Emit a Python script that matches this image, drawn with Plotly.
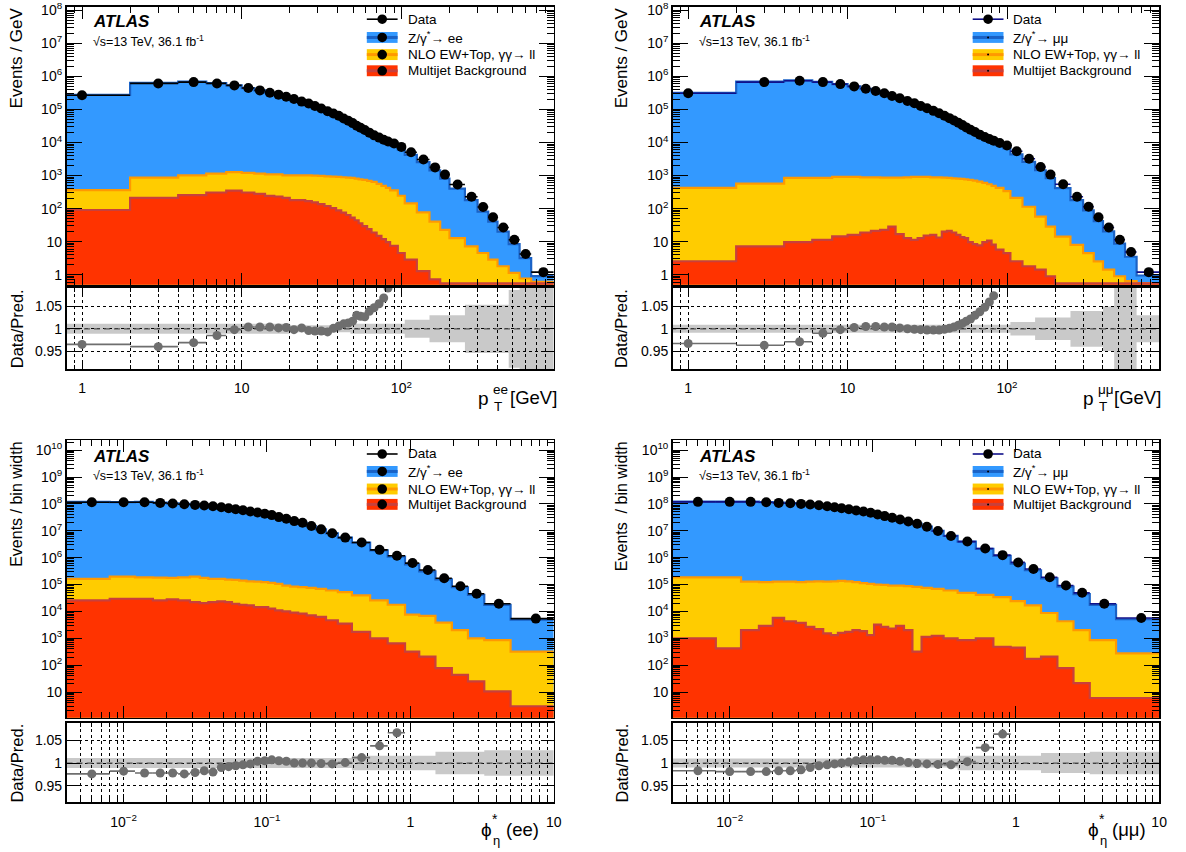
import plotly.graph_objects as go

W, H = 1186, 852
FONT = "Liberation Sans, Arial, Helvetica, sans-serif"

# ----------------------------------------------------------------- data
PT_EDGES = [0, 2, 4, 6, 8, 10, 12, 14, 16, 18, 20, 22.5, 25, 27.5, 30, 33, 36, 39, 42, 45,
            48, 51, 54, 57, 61, 65, 70, 75, 80, 85, 95, 105, 125, 150, 175, 200, 250, 300,
            350, 400, 470, 550, 650, 900]

EE_PT_DATA = [2.68e5, 6.14e5, 6.73e5, 6.14e5, 5.35e5, 4.45e5, 3.78e5, 3.22e5, 2.81e5, 2.44e5,
              2.08e5, 1.73e5, 1.51e5, 1.28e5, 1.07e5, 8.87e4, 7.55e4, 6.43e4, 5.35e4, 4.55e4,
              3.87e4, 3.22e4, 2.81e4, 2.39e4, 1.99e4, 1.65e4, 1.41e4, 1.22e4, 1.07e4, 9.29e3,
              7.38e3, 5.1e3, 3.08e3, 1.77e3, 1.07e3, 535, 228, 112, 54.7, 26.8, 11.4, 4.25, 1.2]
EE_PT_RATIO = [0.965, 0.960, 0.969, 0.985, 0.998, 1.004, 1.004, 1.004, 1.002, 1.003,
               0.998, 1.002, 0.996, 0.995, 0.995, 0.993, 1.001, 1.006, 1.011, 1.013,
               1.017, 1.030, 1.028, 1.027, 1.039, 1.047, 1.056, 1.069, 1.091, None,
               None, None, None, None, None, None, None, None, None, None, None, None, None]
EE_PT_Z = [2.78e5, 6.4e5, 6.95e5, 6.23e5, 5.36e5, 4.43e5, 3.76e5, 3.2e5, 2.8e5, 2.43e5,
           2.08e5, 1.73e5, 1.52e5, 1.29e5, 1.08e5, 8.93e4, 7.54e4, 6.39e4, 5.29e4, 4.49e4,
           3.8e4, 3.13e4, 2.73e4, 2.33e4, 1.92e4, 1.58e4, 1.34e4, 1.14e4, 9.8e3, 8.1e3,
           6.1e3, 4.25e3, 2.56e3, 1.44e3, 810, 405, 181, 81, 40.5, 20.3, 8.5, 3.2, 0.91]
EE_PT_EW = [363, 871, 1020, 1140, 1280, 1200, 1140, 1090, 1090, 1020,
            1020, 1020, 1020, 998, 975, 950, 930, 910, 890, 870,
            850, 810, 770, 740, 690, 645, 560, 490, 425, 355,
            245, 144, 77, 40.5, 22.8, 12.8, 7.2, 4.55, 2.87, 1.81, 1.14, 0.77, 0.61]
EE_PT_MJ = [91, 213, 256, 308, 353, 308, 281, 244, 233, 213,
            181, 181, 169, 154, 137, 120, 104, 89, 75.5, 64.3,
            53.5, 44.5, 36.1, 29.4, 23.9, 19, 15.1, 12, 9.7, 7.55,
            4.55, 2.87, 1.28, 0.72, 0.55, 0.55, 0.55, 0.55, 0.55, 0.55, 0.55, 0.55, 0.55]
EE_PT_BAND = [0.011, 0.011, 0.011, 0.011, 0.011, 0.011, 0.011, 0.011, 0.011, 0.011,
              0.008, 0.008, 0.008, 0.008, 0.008, 0.008, 0.008, 0.008, 0.008, 0.008,
              0.011, 0.011, 0.011, 0.011, 0.011, 0.011, 0.011, 0.011, 0.011, 0.011,
              0.011, 0.02, 0.02, 0.03, 0.03, 0.03, 0.054, 0.054, 0.054, 0.054, 0.087, 0.15, 0.15]

MM_PT_DATA = [3.08e5, 6.73e5, 7.38e5, 6.73e5, 5.86e5, 4.99e5, 4.25e5, 3.61e5, 3.08e5, 2.56e5,
              2.18e5, 1.81e5, 1.54e5, 1.28e5, 1.09e5, 9.08e4, 7.73e4, 6.43e4, 5.47e4, 4.66e4,
              3.96e4, 3.37e4, 2.87e4, 2.44e4, 2.08e4, 1.73e4, 1.47e4, 1.28e4, 1.14e4, 9.7e3,
              8.1e3, 5.47e3, 3.22e3, 1.81e3, 1.07e3, 547, 228, 114, 54.7, 26.8, 11.4, 4.88, 1.2]
MM_PT_RATIO = [0.967, 0.963, 0.971, 0.990, 0.998, 1.003, 1.005, 1.005, 1.004, 1.004,
               1.002, 1.000, 0.999, 0.998, 0.997, 0.997, 0.997, 0.999, 1.001, 1.004,
               1.008, 1.012, 1.017, 1.022, 1.030, 1.038, 1.048, 1.060, 1.074, None,
               None, None, None, None, None, None, None, None, None, None, None, None, None]
MM_PT_Z = [3.19e5, 6.99e5, 7.6e5, 6.8e5, 5.87e5, 4.97e5, 4.23e5, 3.59e5, 3.07e5, 2.55e5,
           2.18e5, 1.81e5, 1.54e5, 1.28e5, 1.09e5, 9.1e4, 7.75e4, 6.44e4, 5.46e4, 4.64e4,
           3.93e4, 3.33e4, 2.82e4, 2.39e4, 2.02e4, 1.67e4, 1.4e4, 1.21e4, 1.06e4, 8.4e3,
           6.7e3, 4.4e3, 2.6e3, 1.45e3, 840, 420, 180, 88, 42, 20.5, 8.7, 3.5, 0.95]
MM_PT_EW = [425, 573, 847, 847, 908, 908, 887, 887, 867, 867,
            867, 887, 908, 908, 908, 887, 887, 867, 847, 828,
            809, 790, 772, 738, 705, 658, 600, 547, 488, 425,
            338, 213, 114, 57, 28.6, 14.3, 8.04, 4.52, 2.54, 1.43, 0.9, 0.64, 0.56]
MM_PT_MJ = [2.56, 7.2, 9.7, 11.4, 14.4, 16.1, 19, 21.3, 22.8, 28.7,
            16.9, 12.8, 11.4, 12.8, 15.4, 16.1, 13.4, 20.3, 21.3, 19,
            16.1, 13.7, 12.8, 9.7, 8.47, 7.73, 9.7, 10.7, 8.1, 5.73,
            4.52, 2.56, 1.81, 1.43, 0.9, 0.55, 0.55, 0.55, 0.55, 0.55, 0.55, 0.55, 0.55]
MM_PT_BAND = [0.009, 0.009, 0.009, 0.009, 0.009, 0.009, 0.009, 0.009, 0.009, 0.009,
              0.009, 0.009, 0.009, 0.009, 0.009, 0.009, 0.009, 0.009, 0.009, 0.009,
              0.009, 0.009, 0.009, 0.009, 0.009, 0.009, 0.009, 0.009, 0.009, 0.009,
              0.009, 0.015, 0.015, 0.025, 0.025, 0.025, 0.04, 0.04, 0.04, 0.05, 0.1, 0.1, 0.03]

PHI_EDGES = [0.004, 0.008, 0.012, 0.016, 0.020, 0.024, 0.029, 0.034, 0.039, 0.045, 0.051,
             0.057, 0.064, 0.072, 0.081, 0.091, 0.102, 0.114, 0.128, 0.145, 0.165, 0.189,
             0.219, 0.258, 0.312, 0.391, 0.524, 0.695, 0.918, 1.153, 1.496, 1.947, 2.522,
             3.277, 5.0, 10.0]

EE_PHI_DATA = [1.15e8, 1.15e8, 1.15e8, 1.09e8, 1.03e8, 9.72e7, 9.18e7, 8.67e7, 8.2e7, 7.53e7,
               6.92e7, 6.35e7, 5.83e7, 5.21e7, 4.79e7, 4.28e7, 3.82e7, 3.22e7, 2.79e7, 2.29e7,
               1.99e7, 1.5e7, 1.13e7, 8.04e6, 5.56e6, 3.64e6, 1.95e6, 1.17e6, 6.28e5, 3.47e5,
               1.71e5, 8.65e4, 4.51e4, 1.93e4, 5.4e3]
EE_PHI_RATIO = [0.976, 0.982, 0.978, 0.978, 0.978, 0.976, 0.979, 0.983, 0.980, 0.990,
                0.992, 0.994, 0.996, 0.998, 1.004, 1.005, 1.007, 1.005, 1.004, 1.000,
                1.000, 1.000, 0.999, 0.998, 1.001, 1.012, 1.038, 1.067, None, None,
                None, None, None, None, None]
EE_PHI_Z = [1.18e8, 1.17e8, 1.18e8, 1.11e8, 1.05e8, 9.96e7, 9.38e7, 8.82e7, 8.37e7, 7.6e7,
            6.98e7, 6.39e7, 5.85e7, 5.22e7, 4.77e7, 4.26e7, 3.79e7, 3.2e7, 2.78e7, 2.29e7,
            1.99e7, 1.5e7, 1.13e7, 8.06e6, 5.55e6, 3.6e6, 1.88e6, 1.1e6, 5.6e5, 3.1e5,
            1.55e5, 7.9e4, 4.1e4, 1.75e4, 4.9e3]
EE_PHI_EW = [1.61e5, 1.97e5, 1.86e5, 1.81e5, 1.76e5, 1.86e5, 1.97e5, 1.76e5, 1.61e5, 1.61e5,
             1.52e5, 1.48e5, 1.4e5, 1.32e5, 1.29e5, 1.22e5, 1.15e5, 1.05e5, 9.16e4, 8.41e4,
             7.94e4, 7.51e4, 6.9e4, 5.99e4, 5.2e4, 3.92e4, 2.56e4, 1.77e4, 7.57e3, 6.76e3,
             3.84e3, 2.0e3, 986, 856, 318]
EE_PHI_MJ = [2.56e4, 2.95e4, 2.95e4, 2.56e4, 2.79e4, 2.56e4, 2.22e4, 2.04e4, 2.22e4, 2.36e4,
             2.22e4, 1.93e4, 1.77e4, 1.67e4, 1.45e4, 1.45e4, 1.26e4, 1.09e4, 1.0e4, 9.0e3,
             8.24e3, 7.16e3, 6.21e3, 4.68e3, 3.52e3, 1.74e3, 986, 646, 318, 208,
             77, 43.8, 24.8, 10.6, 2.96]
EE_PHI_BAND = [0.011, 0.011, 0.011, 0.011, 0.011, 0.011, 0.011, 0.011, 0.011, 0.011,
               0.011, 0.011, 0.011, 0.011, 0.011, 0.011, 0.011, 0.011, 0.011, 0.011,
               0.011, 0.011, 0.011, 0.011, 0.011, 0.016, 0.016, 0.016, 0.016, 0.016,
               0.025, 0.025, 0.025, 0.028, 0.028]

MM_PHI_DATA = [1.19e8, 1.19e8, 1.19e8, 1.15e8, 1.09e8, 1.06e8, 1.0e8, 9.44e7, 8.93e7, 8.2e7,
               7.53e7, 6.92e7, 6.35e7, 5.68e7, 5.21e7, 4.66e7, 4.04e7, 3.51e7, 3.04e7, 2.64e7,
               2.23e7, 1.83e7, 1.42e7, 9.8e6, 6.41e6, 3.96e6, 2.18e6, 1.24e6, 6.65e5, 3.78e5,
               1.86e5, 9.16e4, 4.91e4, 1.93e4, 5.7e3]
MM_PHI_RATIO = [0.983, 0.981, 0.981, 0.981, 0.983, 0.983, 0.985, 0.990, 0.994, 0.996,
                0.998, 1.000, 1.002, 1.005, 1.007, 1.007, 1.007, 1.006, 1.006, 1.004,
                1.001, 0.999, 0.998, 0.997, 0.996, 1.003, 1.034, 1.064, None, None,
                None, None, None, None, None]
MM_PHI_Z = [1.21e8, 1.21e8, 1.21e8, 1.17e8, 1.11e8, 1.08e8, 1.02e8, 9.53e7, 8.98e7, 8.23e7,
            7.55e7, 6.92e7, 6.34e7, 5.65e7, 5.17e7, 4.63e7, 4.01e7, 3.49e7, 3.02e7, 2.63e7,
            2.23e7, 1.83e7, 1.42e7, 9.83e6, 6.44e6, 3.95e6, 2.11e6, 1.17e6, 6.0e5, 3.4e5,
            1.68e5, 8.3e4, 4.4e4, 1.75e4, 5.1e3]
MM_PHI_EW = [1.86e5, 1.86e5, 1.29e5, 1.22e5, 1.29e5, 1.29e5, 1.22e5, 1.29e5, 1.32e5, 1.29e5,
             1.32e5, 1.36e5, 1.32e5, 1.22e5, 1.12e5, 1.05e5, 9.97e4, 9.69e4, 9.16e4, 9.16e4,
             8.65e4, 8.18e4, 7.51e4, 6.9e4, 5.99e4, 4.91e4, 4.14e4, 3.4e4, 2.42e4, 1.67e4,
             8.73e3, 4.3e3, 2.0e3, 856, 276]
MM_PHI_MJ = [986, 422, 2.0e3, 2.89e3, 5.7e3, 4.3e3, 3.73e3, 2.66e3, 2.18e3, 1.51e3,
             1.31e3, 1.6e3, 1.74e3, 2.0e3, 1.84e3, 1.31e3, 3.24e3, 2.66e3, 2.31e3, 2.89e3,
             2.0e3, 318, 1.13e3, 1.24e3, 986, 856, 986, 485, 446, 170,
             208, 77, 21.5, 6.0, 6.0]
MM_PHI_BAND = [0.010, 0.010, 0.010, 0.010, 0.010, 0.010, 0.010, 0.010, 0.010, 0.010,
               0.010, 0.010, 0.010, 0.010, 0.010, 0.010, 0.010, 0.010, 0.010, 0.010,
               0.010, 0.010, 0.010, 0.010, 0.010, 0.016, 0.016, 0.016, 0.016, 0.016,
               0.022, 0.022, 0.022, 0.025, 0.025]

# ------------------------------------------------------------ styling
BLUE_FILL, BLUE_LINE = "#3399ff", "#1a62c6"
YEL_FILL, YEL_LINE = "#ffcc00", "#ff9900"
RED_FILL, RED_LINE = "#ff3300", "#c8403c"
RATIO_GREY = "#6e6e6e"
BAND_FILL = "rgba(0,0,0,0.21)"


def px(xp):
    return xp / W


def py(yp):
    return 1 - yp / H


fig = go.Figure()


def step_polygon(edges, vals, base):
    xs, ys = [], []
    for lo, hi, v in zip(edges[:-1], edges[1:], vals):
        xs += [lo, hi]
        ys += [v, v]
    xs += [edges[-1], edges[0], edges[0]]
    ys += [base, base, vals[0]]
    return xs, ys


def band_polygon(edges, half):
    xs, ys = [], []
    bins = list(zip(edges[:-1], edges[1:], half))
    for lo, hi, h in bins:
        xs += [lo, hi]
        ys += [1 + h, 1 + h]
    for lo, hi, h in reversed(bins):
        xs += [hi, lo]
        ys += [1 - h, 1 - h]
    return xs, ys


def ax_name(kind, n):
    return kind if n == 1 else f"{kind}{n}"


PT_MAJOR = [1, 10, 100]
PT_MINOR = [0.8, 0.9] + [m * 10 ** k for k in range(0, 3) for m in range(2, 10)]
PT_TEXT = ["1", "10", "10<sup>2</sup>"]
PHI_MAJOR = [0.01, 0.1, 1, 10]
PHI_MINOR = [m * 10.0 ** k for k in range(-3, 1) for m in range(2, 10) if m * 10.0 ** k >= 0.004]
PHI_TEXT = ["10<sup>\u22122</sup>", "10<sup>\u22121</sup>", "1", "10"]

XL = [67 / W, 557.5 / W]
XR = [677.3 / W, 1167 / W]
Y_TOP_MAIN = [(H - 280) / H, 1.0]
Y_TOP_RAT = [(H - 365) / H, (H - 283) / H]
Y_BOT_MAIN = [(H - 716.7) / H, (H - 436.7) / H]
Y_BOT_RAT = [(H - 801.7) / H, (H - 721.7) / H]

panels = [
    dict(edges=PT_EDGES, data=EE_PT_DATA, ratio=EE_PT_RATIO, z=EE_PT_Z, ew=EE_PT_EW, mj=EE_PT_MJ,
         band=EE_PT_BAND, xdom=XL, ydm=Y_TOP_MAIN, ydr=Y_TOP_RAT, xr=[-0.0969, 2.9542],
         yr=[-0.301, 8.1], rr=[0.91, 1.092], xmaj=PT_MAJOR, xmin=PT_MINOR, xtxt=PT_TEXT,
         ymaj=[10 ** k for k in range(0, 9)], ymin=[m * 10.0 ** k for k in range(-1, 8) for m in range(2, 10)],
         ytxt=["1", "10"] + [f"10<sup>{k}</sup>" for k in range(2, 9)], dcol="black", chan="ee", xleft=0.5),
    dict(edges=PT_EDGES, data=MM_PT_DATA, ratio=MM_PT_RATIO, z=MM_PT_Z, ew=MM_PT_EW, mj=MM_PT_MJ,
         band=MM_PT_BAND, xdom=XR, ydm=Y_TOP_MAIN, ydr=Y_TOP_RAT, xr=[-0.0969, 2.9542],
         yr=[-0.301, 8.1], rr=[0.91, 1.092], xmaj=PT_MAJOR, xmin=PT_MINOR, xtxt=PT_TEXT,
         ymaj=[10 ** k for k in range(0, 9)], ymin=[m * 10.0 ** k for k in range(-1, 8) for m in range(2, 10)],
         ytxt=["1", "10"] + [f"10<sup>{k}</sup>" for k in range(2, 9)], dcol="#10108a", chan="mm", xleft=0.5),
    dict(edges=PHI_EDGES, data=EE_PHI_DATA, ratio=EE_PHI_RATIO, z=EE_PHI_Z, ew=EE_PHI_EW, mj=EE_PHI_MJ,
         band=EE_PHI_BAND, xdom=XL, ydm=Y_BOT_MAIN, ydr=Y_BOT_RAT, xr=[-2.398, 1.0],
         yr=[0.041, 10.373], rr=[0.9136, 1.089], xmaj=PHI_MAJOR, xmin=PHI_MINOR, xtxt=PHI_TEXT,
         ymaj=[10 ** k for k in range(1, 11)], ymin=[m * 10.0 ** k for k in range(0, 11) for m in range(2, 10)],
         ytxt=["10"] + [f"10<sup>{k}</sup>" for k in range(2, 11)], dcol="black", chan="ee", xleft=0.004),
    dict(edges=PHI_EDGES, data=MM_PHI_DATA, ratio=MM_PHI_RATIO, z=MM_PHI_Z, ew=MM_PHI_EW, mj=MM_PHI_MJ,
         band=MM_PHI_BAND, xdom=XR, ydm=Y_BOT_MAIN, ydr=Y_BOT_RAT, xr=[-2.398, 1.0],
         yr=[0.041, 10.373], rr=[0.9136, 1.089], xmaj=PHI_MAJOR, xmin=PHI_MINOR, xtxt=PHI_TEXT,
         ymaj=[10 ** k for k in range(1, 11)], ymin=[m * 10.0 ** k for k in range(0, 11) for m in range(2, 10)],
         ytxt=["10"] + [f"10<sup>{k}</sup>" for k in range(2, 11)], dcol="#10108a", chan="mm", xleft=0.004),
]

tickfont = dict(family=FONT, size=14, color="black")
layout_axes = {}

for i, p in enumerate(panels):
    nm, nr = 2 * i + 1, 2 * i + 2
    xm, ym = ax_name("x", nm), ax_name("y", nm)
    xr_, yr_ = ax_name("x", nr), ax_name("y", nr)
    edges = p["edges"]
    pe = [max(e, p["xleft"]) for e in edges]
    centers = [(lo + hi) / 2 for lo, hi in zip(edges[:-1], edges[1:])]
    minus = [c - lo for c, lo in zip(centers, pe[:-1])]
    plus = [hi - c for c, hi in zip(centers, pe[1:])]

    # stacked histograms (cumulative tops), drawn top layer first
    for vals, fcol, lcol in ((p["z"], BLUE_FILL, BLUE_LINE), (p["ew"], YEL_FILL, YEL_LINE),
                             (p["mj"], RED_FILL, RED_LINE)):
        xs, ys = step_polygon(pe, vals, 1e-3)
        fig.add_trace(go.Scatter(x=xs, y=ys, fill="toself", fillcolor=fcol, mode="lines",
                                 line=dict(width=0, color=fcol), xaxis=xm, yaxis=ym, hoverinfo="skip"))
        fig.add_trace(go.Scatter(x=pe, y=list(vals) + [vals[-1]], mode="lines", line_shape="hv",
                                 line=dict(color=lcol, width=2.2), xaxis=xm, yaxis=ym, hoverinfo="skip"))
    # data
    fig.add_trace(go.Scatter(x=centers, y=p["data"], mode="markers",
                             marker=dict(color="black", size=10),
                             error_x=dict(type="data", symmetric=False, array=plus, arrayminus=minus,
                                          color=p["dcol"], thickness=1.6, width=0),
                             xaxis=xm, yaxis=ym))
    # ratio
    bx, by = band_polygon(pe, p["band"])
    fig.add_trace(go.Scatter(x=bx, y=by, fill="toself", fillcolor=BAND_FILL, mode="lines",
                             line=dict(width=0, color="rgba(0,0,0,0)"), xaxis=xr_, yaxis=yr_, hoverinfo="skip"))
    fig.add_trace(go.Scatter(x=[pe[0], pe[-1]], y=[1, 1], mode="lines",
                             line=dict(color="#555555", width=1.2, dash="6px,4px"), xaxis=xr_, yaxis=yr_))
    fig.add_trace(go.Scatter(x=centers, y=p["ratio"], mode="markers",
                             marker=dict(color=RATIO_GREY, size=9),
                             error_x=dict(type="data", symmetric=False, array=plus, arrayminus=minus,
                                          color=RATIO_GREY, thickness=1.6, width=0),
                             xaxis=xr_, yaxis=yr_))

    common = dict(showline=True, linecolor="black", linewidth=1.6, mirror="ticks", ticks="inside",
                  tickcolor="black", tickfont=tickfont, zeroline=False, ticklabeloverflow="allow")
    layout_axes[ax_name("xaxis", nm)] = dict(
        common, type="log", domain=p["xdom"], range=p["xr"], anchor=ym, tickmode="array",
        tickvals=p["xmaj"], ticktext=p["xtxt"], showticklabels=False, ticklen=12, showgrid=False,
        matches=xr_,
        minor=dict(tickmode="array", tickvals=p["xmin"], ticks="inside", ticklen=6, tickcolor="black",
                   showgrid=False))
    layout_axes[ax_name("yaxis", nm)] = dict(
        common, type="log", domain=p["ydm"], range=p["yr"], anchor=xm, tickmode="array",
        tickvals=p["ymaj"], ticktext=p["ytxt"], ticklen=15, showgrid=False,
        minor=dict(tickmode="array", tickvals=p["ymin"], ticks="inside", ticklen=7, tickcolor="black",
                   showgrid=False))
    layout_axes[ax_name("xaxis", nr)] = dict(
        common, type="log", domain=p["xdom"], range=p["xr"], anchor=yr_, tickmode="array",
        tickvals=p["xmaj"], ticktext=p["xtxt"], ticklen=8, showgrid=True, gridcolor="black",
        griddash="dot", gridwidth=1, ticklabelstandoff=6,
        minor=dict(tickmode="array", tickvals=p["xmin"], ticks="inside", ticklen=4, tickcolor="black",
                   showgrid=True, gridcolor="black", griddash="dot", gridwidth=1))
    layout_axes[ax_name("yaxis", nr)] = dict(
        common, domain=p["ydr"], range=p["rr"], anchor=xr_, tickmode="array",
        tickvals=[0.95, 1, 1.05], ticktext=["0.95", "1", "1.05"], ticklen=13, showgrid=True,
        gridcolor="black", griddash="dot", gridwidth=1)

# ------------------------------------------------------------ annotations
ann = []
shapes = []


def text(x, y, s, size=13, xa="left", ya="middle", angle=0, **kw):
    ann.append(dict(x=px(x), y=py(y), xref="paper", yref="paper", text=s, showarrow=False,
                    xanchor=xa, yanchor=ya, textangle=angle,
                    font=dict(family=FONT, size=size, color="black"), **kw))


# ATLAS labels
for ax0, ay0 in ((92, 15), (702, 15), (92, 453), (702, 453)):
    text(ax0, ay0, "<b><i>ATLAS</i></b>", size=17)
    text(ax0, ay0 + 19, "\u221as=13 TeV, 36.1 fb<sup>-1</sup>", size=12.5)

# axis titles (y)
text(17, -2, "Events / GeV", size=17, xa="center", ya="top", angle=-90)
text(626, -2, "Events / GeV", size=17, xa="center", ya="top", angle=-90)
text(17, 436, "Events / bin width", size=16, xa="center", ya="top", angle=-90)
text(626, 436, "Events  / bin width", size=16, xa="center", ya="top", angle=-90)
for yy in (324, 762):
    text(17, yy, "Data/Pred.", size=16.5, xa="center", ya="middle", angle=-90)
    text(626, yy, "Data/Pred.", size=16.5, xa="center", ya="middle", angle=-90)

# axis titles (x)
for x0, sup in ((479, "ee"), (1088, "\u03bc\u03bc")):
    text(x0, 395, "p", size=19)
    text(x0 + 15, 386, sup, size=13.5)
    text(x0 + 16, 403, "T", size=13.5)
    text(x0 + 32, 394, "[GeV]", size=18.5)
for x0, lab in ((482, "(ee)"), (1093, "(\u03bc\u03bc)")):
    text(x0, 829, "\u03d5", size=19)
    text(x0 + 11, 819, "*", size=14)
    text(x0 + 12, 840, "\u03b7", size=13)
    text(x0 + 25, 829, lab, size=18.5)

# legends
def legend(sx0, tx, rows_y, chan, dcol):
    sx1 = sx0 + 31
    cx = (sx0 + sx1) / 2
    names = ["Data",
             "Z/\u03b3<sup>*</sup>\u2192 " + ("ee" if chan == "ee" else "\u03bc\u03bc"),
             "NLO EW+Top, \u03b3\u03b3\u2192 ll", "Multijet Background"]
    cols = [None, (BLUE_FILL, BLUE_LINE), (YEL_FILL, YEL_LINE), (RED_FILL, RED_LINE)]
    for k, (yy, nmx, c) in enumerate(zip(rows_y, names, cols)):
        text(tx, yy, nmx, size=13.5)
        if c is None:
            shapes.append(dict(type="line", xref="paper", yref="paper", x0=px(sx0), x1=px(sx1),
                               y0=py(yy), y1=py(yy), line=dict(color=dcol, width=1.6)))
            r = 4.8
        else:
            shapes.append(dict(type="rect", xref="paper", yref="paper", x0=px(sx0), x1=px(sx1),
                               y0=py(yy - 5.5), y1=py(yy + 5.5), fillcolor=c[0], line=dict(width=0)))
            shapes.append(dict(type="line", xref="paper", yref="paper", x0=px(sx0), x1=px(sx1),
                               y0=py(yy), y1=py(yy), line=dict(color=c[1], width=3)))
            r = 4.8 if chan == "ee" else 1.0
        shapes.append(dict(type="circle", xref="paper", yref="paper", xsizemode="pixel",
                           ysizemode="pixel", xanchor=px(cx), yanchor=py(yy), x0=-r, x1=r, y0=-r, y1=r,
                           fillcolor="black", line=dict(width=0)))


legend(369.3, 408.3, [12.3, 30.7, 48.0, 64.3], "ee", "black")
legend(979.3, 1018.3, [12.3, 30.7, 48.0, 64.3], "mm", "#10108a")
legend(369.3, 408.3, [450.7, 468.3, 486.0, 501.5], "ee", "black")
legend(979.3, 1018.3, [450.7, 468.3, 486.0, 501.5], "mm", "#10108a")

fig.update_layout(width=W, height=H, margin=dict(l=0, r=0, t=0, b=0), showlegend=False,
                  paper_bgcolor="white", plot_bgcolor="white", annotations=ann, shapes=shapes,
                  hovermode=False,
                  font=dict(family=FONT, color="black"), **layout_axes)

fig.write_html("out.html", config={"displayModeBar": False, "staticPlot": True},
               post_script="document.body.style.margin='0px';document.body.style.overflow='hidden';")
